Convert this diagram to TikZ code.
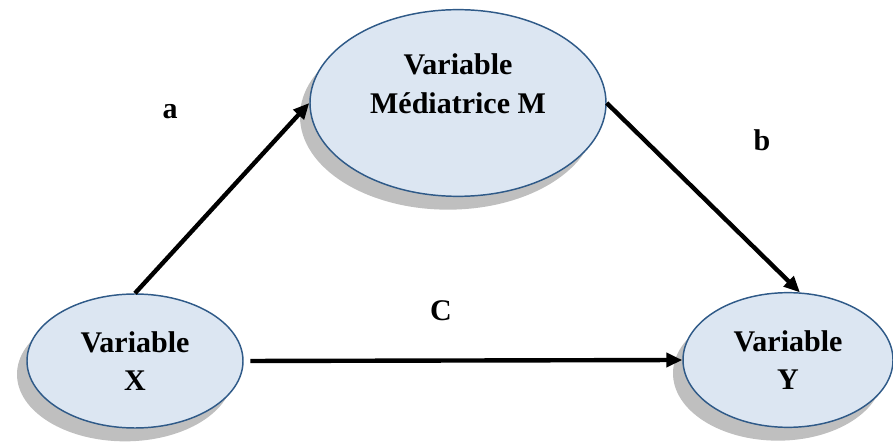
\documentclass[tikz,border=0pt]{standalone}
\usepackage{fontspec}
\setmainfont{Liberation Serif}
\usetikzlibrary{arrows.meta,shapes,shadows}

\definecolor{varfill}{HTML}{DCE6F2}
\definecolor{varedge}{HTML}{2F5A88}
\definecolor{shadowgray}{HTML}{BFBFBF}

\begin{document}
\begin{tikzpicture}[x=0.75pt,y=-0.75pt]
	\tikzstyle{varnode}=[ellipse,draw=varedge,line width=1.1pt,fill=varfill,inner sep=0pt,
		drop shadow={shadow xshift=-7.5pt,shadow yshift=-10pt,fill=shadowgray,opacity=1}]
	\tikzstyle{vartext}=[align=center,font=\fontsize{22.5}{29}\selectfont\bfseries]
	\tikzstyle{effect}=[line width=3.3pt,-{Triangle[length=12pt,width=10.5pt]}]
	\tikzstyle{pathname}=[font=\fontsize{22.5}{29}\selectfont\bfseries]

	\useasboundingbox (0,0) rectangle (893,445);

	\node[varnode,minimum width=222pt,minimum height=140pt] (m) at (458,103) {};
	\node[vartext] (mtext) at (458,84) {Variable\\Médiatrice M};
	\node[varnode,vartext,minimum width=162pt,minimum height=100.5pt] (x) at (135,361) {Variable\\X};
	\node[varnode,vartext,minimum width=157.5pt,minimum height=101pt] (y) at (788,360) {Variable\\Y};

	\draw[effect] (x.north) -- (m.west);
	\draw[effect] (m.east) -- (y.80);
	\draw[effect,shorten <=5pt] (x.east) -- (y.west);

	\node[pathname] (la) at (170,112) {a};
	\node[pathname] (lb) at (762,140) {b};
	\node[pathname] (lc) at (441,311) {C};
\end{tikzpicture}
\end{document}
